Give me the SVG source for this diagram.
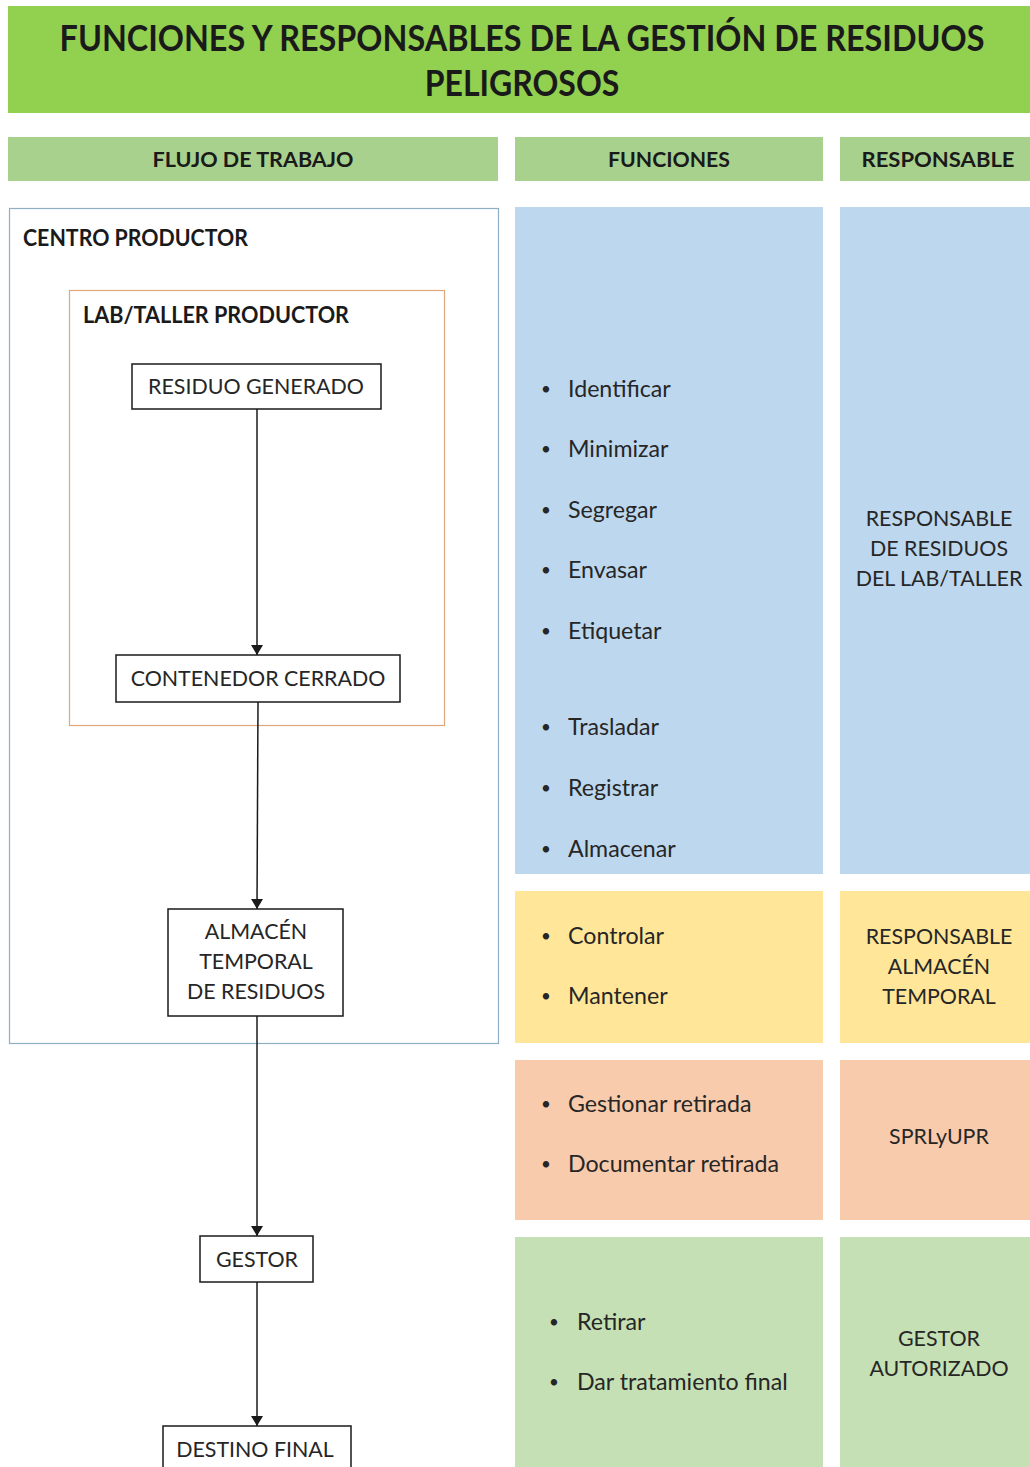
<svg xmlns="http://www.w3.org/2000/svg" width="1030" height="1467" viewBox="0 0 1030 1467">
<style>
.t{font-family:Lato,"Liberation Sans",sans-serif;fill:#262626;}
.b{font-weight:bold;fill:#1a1a1a;}
.title{font-size:36px;}
.hd{font-size:21px;}
.grp{font-size:22px;}
.lbl{font-size:21.4px;}
.it{font-size:23.2px;}
.bul{font-size:17px;}
.box{fill:#ffffff;stroke:#1a1a1a;stroke-width:1.5;}
.conn{stroke:#1a1a1a;stroke-width:1.5;fill:none;marker-end:url(#ah);}
</style>
<defs>
<marker id="ah" viewBox="0 0 10 12" refX="10" refY="6" markerWidth="10" markerHeight="12" markerUnits="userSpaceOnUse" orient="auto">
<path d="M0,0 L10,6 L0,12 Z" fill="#1a1a1a"/>
</marker>
</defs>
<rect width="1030" height="1467" fill="#ffffff"/>

<g id="title">
<rect x="8" y="6" width="1022" height="107" fill="#92D050"/>
<text class="t b title" transform="translate(522,51) scale(0.85,1)" x="0" y="0" text-anchor="middle" textLength="1088" lengthAdjust="spacingAndGlyphs">FUNCIONES Y RESPONSABLES DE LA GESTIÓN DE RESIDUOS</text>
<text class="t b title" transform="translate(522,96) scale(0.85,1)" x="0" y="0" text-anchor="middle" textLength="229" lengthAdjust="spacingAndGlyphs">PELIGROSOS</text>
</g>

<g id="headers">
<rect x="8" y="137" width="490" height="44" fill="#A9D18E"/>
<text class="t b hd" x="253" y="167" text-anchor="middle" textLength="201" lengthAdjust="spacingAndGlyphs">FLUJO DE TRABAJO</text>
<rect x="515" y="137" width="308" height="44" fill="#A9D18E"/>
<text class="t b hd" x="669" y="167" text-anchor="middle" textLength="122" lengthAdjust="spacingAndGlyphs">FUNCIONES</text>
<rect x="840" y="137" width="190" height="44" fill="#A9D18E"/>
<text class="t b hd" x="938" y="167" text-anchor="middle" textLength="153" lengthAdjust="spacingAndGlyphs">RESPONSABLE</text>
</g>

<g id="centro-productor">
<rect x="9.5" y="208.5" width="489" height="835" fill="#ffffff" stroke="#8FB0C4" stroke-width="1.2"/>
<text class="t b grp" x="23" y="246" textLength="225" lengthAdjust="spacingAndGlyphs">CENTRO PRODUCTOR</text>
</g>

<g id="lab-taller">
<rect x="69.5" y="290.5" width="375" height="435" fill="#ffffff" stroke="#E0A77A" stroke-width="1.2"/>
<text class="t b grp" x="83" y="323" textLength="266" lengthAdjust="spacingAndGlyphs">LAB/TALLER PRODUCTOR</text>
</g>

<g id="residuo-generado">
<rect class="box" x="132" y="364" width="249" height="45"/>
<text class="t lbl" x="256" y="394" text-anchor="middle">RESIDUO GENERADO</text>
</g>

<g id="contenedor-cerrado">
<rect class="box" x="116" y="655" width="284" height="47"/>
<text class="t lbl" x="258" y="686" text-anchor="middle">CONTENEDOR CERRADO</text>
</g>

<g id="almacen-temporal">
<rect class="box" x="168" y="909" width="175" height="107"/>
<text class="t lbl" x="256" y="939" text-anchor="middle">ALMACÉN</text>
<text class="t lbl" x="256" y="969" text-anchor="middle">TEMPORAL</text>
<text class="t lbl" x="256" y="999" text-anchor="middle">DE RESIDUOS</text>
</g>

<g id="gestor">
<rect class="box" x="200" y="1236" width="113" height="46"/>
<text class="t lbl" x="257" y="1267" text-anchor="middle">GESTOR</text>
</g>

<g id="destino-final">
<rect class="box" x="163" y="1426" width="188" height="50"/>
<text class="t lbl" x="255" y="1457" text-anchor="middle">DESTINO FINAL</text>
</g>

<g id="connectors">
<line class="conn" x1="257" y1="409" x2="257" y2="655"/>
<line class="conn" x1="258" y1="702" x2="257" y2="909"/>
<line class="conn" x1="257" y1="1016" x2="257" y2="1236"/>
<line class="conn" x1="257" y1="1282" x2="257" y2="1426"/>
</g>

<g id="funciones-lab">
<rect x="515" y="207" width="308" height="667" fill="#BDD7EE"/>
<g class="t it">
<text class="bul" x="541" y="395">•</text><text x="568" y="397">Identificar</text>
<text class="bul" x="541" y="455">•</text><text x="568" y="457">Minimizar</text>
<text class="bul" x="541" y="516">•</text><text x="568" y="518">Segregar</text>
<text class="bul" x="541" y="576">•</text><text x="568" y="578">Envasar</text>
<text class="bul" x="541" y="637">•</text><text x="568" y="639">Etiquetar</text>
<text class="bul" x="541" y="733">•</text><text x="568" y="735">Trasladar</text>
<text class="bul" x="541" y="794">•</text><text x="568" y="796">Registrar</text>
<text class="bul" x="541" y="855">•</text><text x="568" y="857">Almacenar</text>
</g>
</g>

<g id="responsable-lab">
<rect x="840" y="207" width="190" height="667" fill="#BDD7EE"/>
<g class="t lbl" text-anchor="middle">
<text x="939" y="526">RESPONSABLE</text>
<text x="939" y="556">DE RESIDUOS</text>
<text x="939" y="586">DEL LAB/TALLER</text>
</g>
</g>

<g id="funciones-almacen">
<rect x="515" y="891" width="308" height="152" fill="#FFE699"/>
<g class="t it">
<text class="bul" x="541" y="942">•</text><text x="568" y="944">Controlar</text>
<text class="bul" x="541" y="1002">•</text><text x="568" y="1004">Mantener</text>
</g>
</g>

<g id="responsable-almacen">
<rect x="840" y="891" width="190" height="152" fill="#FFE699"/>
<g class="t lbl" text-anchor="middle">
<text x="939" y="944">RESPONSABLE</text>
<text x="939" y="974">ALMACÉN</text>
<text x="939" y="1004">TEMPORAL</text>
</g>
</g>

<g id="funciones-sprl">
<rect x="515" y="1060" width="308" height="160" fill="#F8CBAD"/>
<g class="t it">
<text class="bul" x="541" y="1110">•</text><text x="568" y="1112">Gestionar retirada</text>
<text class="bul" x="541" y="1170">•</text><text x="568" y="1172">Documentar retirada</text>
</g>
</g>

<g id="responsable-sprl">
<rect x="840" y="1060" width="190" height="160" fill="#F8CBAD"/>
<text class="t lbl" x="939" y="1144" text-anchor="middle">SPRLyUPR</text>
</g>

<g id="funciones-gestor">
<rect x="515" y="1237" width="308" height="230" fill="#C5E0B4"/>
<g class="t it">
<text class="bul" x="549" y="1328">•</text><text x="577" y="1330">Retirar</text>
<text class="bul" x="549" y="1388">•</text><text x="577" y="1390">Dar tratamiento final</text>
</g>
</g>

<g id="responsable-gestor">
<rect x="840" y="1237" width="190" height="230" fill="#C5E0B4"/>
<g class="t lbl" text-anchor="middle">
<text x="939" y="1346">GESTOR</text>
<text x="939" y="1376">AUTORIZADO</text>
</g>
</g>
</svg>
